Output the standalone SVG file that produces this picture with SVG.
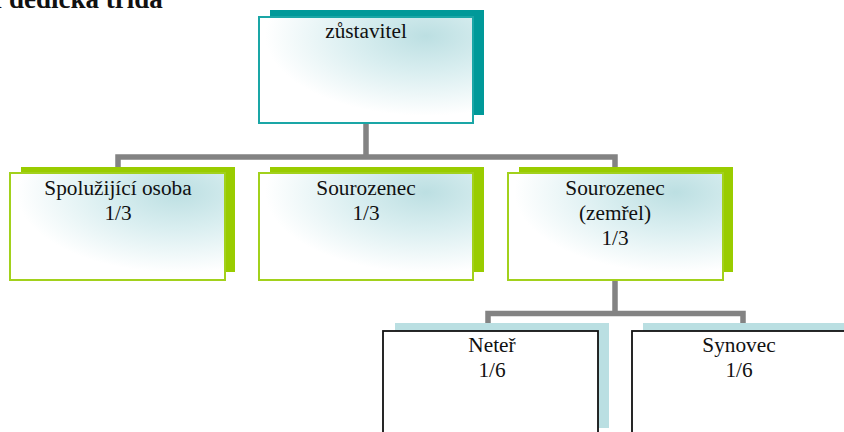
<svg xmlns="http://www.w3.org/2000/svg" width="844" height="432" viewBox="0 0 844 432">
<style>
.t{font-family:'Liberation Serif','Tinos','Times New Roman','DejaVu Serif',serif;font-size:21.3px;fill:#111;text-anchor:middle}
.title{font-family:'Liberation Serif','Tinos','Times New Roman','DejaVu Serif',serif;font-size:27px;font-weight:bold;fill:#111}
.conn{fill:none;stroke:#838383;stroke-width:5.5}
.shT{fill:#009999}
.shG{fill:#99cc00}
.shB{fill:#badfe2}
.frT{fill:url(#g);stroke:#1aa6a6;stroke-width:2}
.frG{fill:url(#g);stroke:#a2d11c;stroke-width:2}
.frB{fill:#ffffff;stroke:#111;stroke-width:1.8}
</style>
<defs>
<radialGradient id="g" cx="0.78" cy="0.18" r="0.75" fx="0.78" fy="0.18">
<stop offset="0" stop-color="#bcdfe2"/>
<stop offset="0.45" stop-color="#d9eef0"/>
<stop offset="1" stop-color="#ffffff"/>
</radialGradient>
</defs>
<rect width="844" height="432" fill="#ffffff"/>
<text class="title" x="-8.3" y="8">I dědická třída</text>
<g id="connectors">
<path class="conn" d="M366,123 V157 M118,167 V157 H615 V167 M615,280 V313.5 M488,323 V313.5 H743 V323"/>
</g>
<g id="zustavitel">
<rect class="shT" x="270" y="10" width="214" height="105"/>
<rect class="frT" x="259" y="17" width="214" height="106"/>
<text class="t" x="366" y="38">zůstavitel</text>
</g>
<g id="spoluzijici">
<rect class="shG" x="21" y="167" width="214" height="105"/>
<rect class="frG" x="10" y="173" width="215" height="107"/>
<text class="t" x="118" y="195">Spolužijící osoba</text>
<text class="t" x="118" y="220">1/3</text>
</g>
<g id="sourozenec1">
<rect class="shG" x="270" y="167" width="214" height="105"/>
<rect class="frG" x="259" y="173" width="214" height="107"/>
<text class="t" x="366" y="195">Sourozenec</text>
<text class="t" x="366" y="220">1/3</text>
</g>
<g id="sourozenec2">
<rect class="shG" x="519" y="167" width="214" height="105"/>
<rect class="frG" x="508" y="173" width="215" height="107"/>
<text class="t" x="615" y="195">Sourozenec</text>
<text class="t" x="615" y="220">(zemřel)</text>
<text class="t" x="615" y="245">1/3</text>
</g>
<g id="neter">
<rect class="shB" x="395" y="323" width="214" height="105"/>
<rect class="frB" x="383" y="331" width="215" height="110"/>
<text class="t" x="492" y="352">Neteř</text>
<text class="t" x="492" y="377">1/6</text>
</g>
<g id="synovec">
<rect class="shB" x="643" y="323" width="214" height="105"/>
<rect class="frB" x="632" y="331" width="215" height="110"/>
<text class="t" x="739" y="352">Synovec</text>
<text class="t" x="739" y="377">1/6</text>
</g>
</svg>
